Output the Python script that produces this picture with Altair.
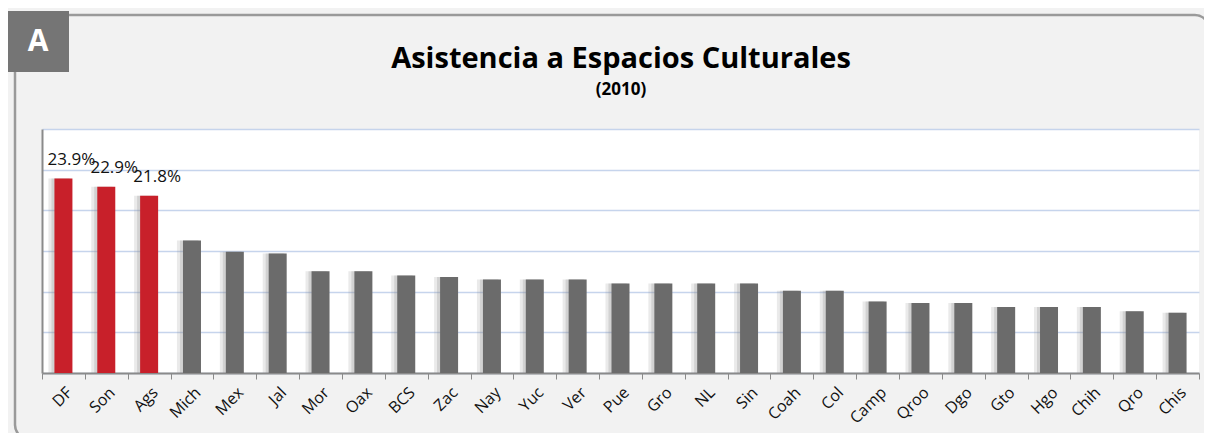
import altair as alt
import pandas as pd

states = ["DF", "Son", "Ags", "Mich", "Mex", "Jal", "Mor", "Oax", "BCS", "Zac", "Nay",
          "Yuc", "Ver", "Pue", "Gro", "NL", "Sin", "Coah", "Col", "Camp", "Qroo", "Dgo",
          "Gto", "Hgo", "Chih", "Qro", "Chis"]
values = [23.9, 22.9, 21.8, 16.3, 14.9, 14.7, 12.5, 12.5, 12.0, 11.8, 11.5,
          11.5, 11.5, 11.0, 11.0, 11.0, 11.0, 10.1, 10.1, 8.8, 8.6, 8.6,
          8.1, 8.1, 8.1, 7.6, 7.4]
groups = ["top"] * 3 + ["rest"] * (len(states) - 3)

title_text = "Asistencia a Espacios Culturales"
subtitle_text = "(2010)"
panel_letter = "A"

df = pd.DataFrame({"estado": states, "valor": values, "grupo": groups})

W, H = 1157, 244

x_enc = alt.X("estado:N", sort=states,
              scale=alt.Scale(paddingInner=0, paddingOuter=0),
              axis=alt.Axis(title=None, labelAngle=-45, labelFontSize=16, labelFont="Open Sans",
                            labelColor="#111", domainColor="#8a8a8a", domainWidth=2,
                            tickColor="#8a8a8a", tickSize=6, tickBand="extent", labelPadding=5))
y_enc = alt.Y("valor:Q", scale=alt.Scale(domain=[0, 30]),
              axis=alt.Axis(title=None, labels=False, ticks=False, values=[0, 5, 10, 15, 20, 25, 30],
                            domainColor="#8a8a8a", domainWidth=2,
                            gridColor="#c6d4ec", gridWidth=1.5))

base = alt.Chart(df)

shadow1 = base.mark_bar(size=22, xOffset=-4, color="#8a8a8a", opacity=0.18).encode(
    x=x_enc, y=y_enc)
shadow2 = base.mark_bar(size=18, xOffset=-3, color="#8a8a8a", opacity=0.25).encode(
    x=x_enc, y=y_enc)

bars = base.mark_bar(size=18).encode(
    x=x_enc, y=y_enc,
    color=alt.Color("grupo:N", scale=alt.Scale(domain=["top", "rest"], range=["#c8202a", "#6b6b6b"]),
                    legend=None))

labels = base.transform_filter(alt.datum.grupo == "top").transform_calculate(
    lab="format(datum.valor, '.1f') + '%'"
).mark_text(dx=8, dy=-10, baseline="bottom", fontSize=17, font="Open Sans", color="#111").encode(
    x=x_enc, y=y_enc, text="lab:N")

one = pd.DataFrame({"k": [0]})

card = alt.Chart(one).mark_rect(fillOpacity=0, stroke="#9a9a9a", strokeWidth=2.5, cornerRadius=14).encode(
    x=alt.value(-27), x2=alt.value(W + 10), y=alt.value(-114), y2=alt.value(H + 66))

box = alt.Chart(one).mark_rect(color="#757575").encode(
    x=alt.value(-34), x2=alt.value(27), y=alt.value(-118), y2=alt.value(-57))

box_text = alt.Chart(pd.DataFrame({"t": [panel_letter]})).mark_text(
    fontSize=30, fontWeight="bold", font="Open Sans", color="white", baseline="middle", align="center"
).encode(x=alt.value(-4), y=alt.value(-87), text="t:N")

title = alt.Chart(pd.DataFrame({"t": [title_text]})).mark_text(
    fontSize=29, fontWeight="bold", font="Open Sans", color="#000", baseline="alphabetic", align="center"
).encode(x=alt.value(579), y=alt.value(-61), text="t:N")

subtitle = alt.Chart(pd.DataFrame({"t": [subtitle_text]})).mark_text(
    fontSize=17, fontWeight="bold", font="Open Sans", color="#000", baseline="alphabetic", align="center"
).encode(x=alt.value(579), y=alt.value(-34), text="t:N")

chart = alt.layer(card, box, box_text, title, subtitle, shadow1, shadow2, bars, labels).properties(
    width=W, height=H,
    autosize=alt.AutoSizeParams(type="none"),
    padding={"left": 34, "top": 121, "right": 5, "bottom": 60},
    background="#f2f2f2",
).configure_view(fill="white", stroke=None)

chart.save("out.html", embed_options={"renderer": "svg", "actions": False})
